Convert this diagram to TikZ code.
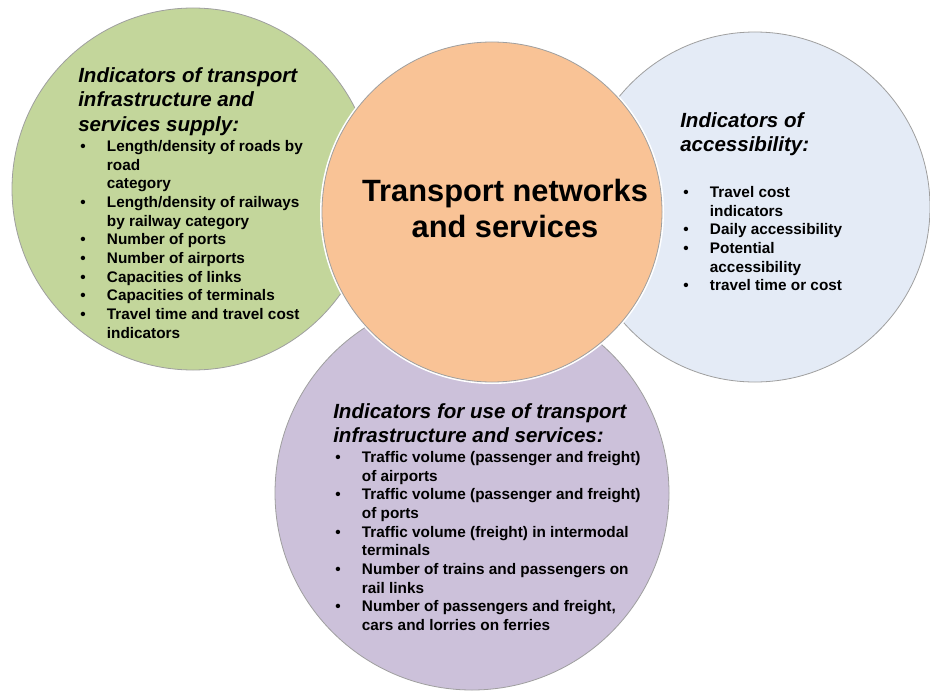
\documentclass[tikz,border=0pt]{standalone}
\usepackage{fontspec}
\setmainfont{Liberation Sans}
\newcommand{\bul}{\makebox[20pt][l]{\textbullet}}
\newcommand{\ind}{\hspace*{20pt}}
\definecolor{grnfill}{RGB}{195,214,155}
\definecolor{orgfill}{RGB}{249,195,150}
\definecolor{blufill}{RGB}{228,235,246}
\definecolor{purfill}{RGB}{204,193,218}
\begin{document}
\begin{tikzpicture}[x=0.75pt,y=0.75pt,yscale=-1,xscale=1,
    ring/.style={draw=gray!75, line width=0.6pt},
    halo/.style={draw=white, line width=3pt},
    head/.style={anchor=north west, inner sep=0pt, align=left, font=\fontsize{15.4}{18.4}\selectfont\bfseries\itshape},
    list/.style={anchor=north west, inner sep=0pt, align=left, font=\fontsize{11.5}{14}\selectfont\bfseries}]
\useasboundingbox (0,0) rectangle (930,692);

%Shape: Circle [purple, use]
\draw [halo] (472,493) circle (197);
\draw [ring, fill=purfill] (472,493) circle (197);
%Shape: Circle [green, supply]
\draw [halo] (193,189) circle (181);
\draw [ring, fill=grnfill] (193,189) circle (181);
%Shape: Circle [blue, accessibility]
\draw [halo] (755,207) circle (175);
\draw [ring, fill=blufill] (755,207) circle (175);
%Shape: Circle [orange, centre]
\draw [halo] (492,212) circle (170);
\draw [ring, fill=orgfill] (492,212) circle (170);

% Text Node
\draw (505,179) node (centre) [anchor=north, inner sep=0pt, align=center, font=\fontsize{23.1}{27}\selectfont\bfseries] {Transport networks\\and services};

% Text Node
\draw (78,67) node (supplyhead) [head] {Indicators of transport\\infrastructure and\\services supply:};
% Text Node
\draw (80,140) node (supplylist) [list] {\bul Length/density of roads by\\
\ind road\\
\ind category\\
\bul Length/density of railways\\
\ind by railway category\\
\bul Number of ports\\
\bul Number of airports\\
\bul Capacities of links\\
\bul Capacities of terminals\\
\bul Travel time and travel cost\\
\ind indicators};

% Text Node
\draw (680,112) node (accesshead) [head] {Indicators of\\accessibility:};
% Text Node
\draw (683,186) node (accesslist) [list] {\bul Travel cost\\
\ind indicators\\
\bul Daily accessibility\\
\bul Potential\\
\ind accessibility\\
\bul travel time or cost};

% Text Node
\draw (333,403) node (usehead) [head] {Indicators for use of transport\\infrastructure and services:};
% Text Node
\draw (335,451) node (uselist) [list] {\bul Traffic volume (passenger and freight)\\
\ind of airports\\
\bul Traffic volume (passenger and freight)\\
\ind of ports\\
\bul Traffic volume (freight) in intermodal\\
\ind terminals\\
\bul Number of trains and passengers on\\
\ind rail links\\
\bul Number of passengers and freight,\\
\ind cars and lorries on ferries};
\end{tikzpicture}
\end{document}
